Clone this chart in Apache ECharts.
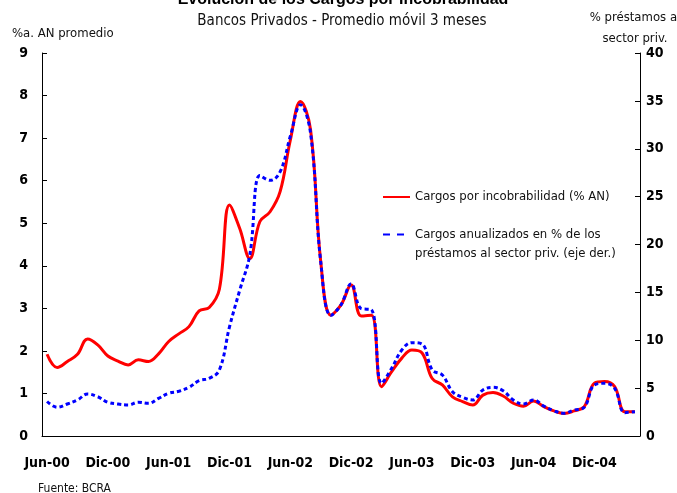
<!DOCTYPE html>
<html>
<head>
<meta charset="utf-8">
<script src="https://cdn.jsdelivr.net/npm/echarts@6/dist/echarts.min.js"></script>
<style>html,body{margin:0;padding:0;background:#fff}#c{width:677px;height:493px}</style>
</head>
<body>
<div id="c"></div>
<script>
const categories = [
  'Jun-00','Jul-00','Ago-00','Sep-00','Oct-00','Nov-00','Dic-00',
  'Ene-01','Feb-01','Mar-01','Abr-01','May-01','Jun-01','Jul-01','Ago-01','Sep-01','Oct-01','Nov-01','Dic-01',
  'Ene-02','Feb-02','Mar-02','Abr-02','May-02','Jun-02','Jul-02','Ago-02','Sep-02','Oct-02','Nov-02','Dic-02',
  'Ene-03','Feb-03','Mar-03','Abr-03','May-03','Jun-03','Jul-03','Ago-03','Sep-03','Oct-03','Nov-03','Dic-03',
  'Ene-04','Feb-04','Mar-04','Abr-04','May-04','Jun-04','Jul-04','Ago-04','Sep-04','Oct-04','Nov-04','Dic-04',
  'Ene-05','Feb-05','Mar-05','Abr-05'
];
// Cargos por incobrabilidad (% AN) - left axis
const cargosAN = [
  1.92,1.61,1.75,1.92,2.28,2.14,1.88,
  1.76,1.67,1.79,1.75,1.93,2.22,2.40,2.57,2.94,3.02,3.45,5.43,
  4.88,4.17,5.04,5.27,5.75,6.95,7.86,7.19,4.10,2.84,3.08,3.55,
  2.82,2.84,1.16,1.51,1.83,2.02,1.95,1.35,1.20,0.92,0.81,0.73,
  0.96,1.02,0.94,0.77,0.70,0.82,0.69,0.59,0.53,0.59,0.69,1.24,
  1.28,1.16,0.57,0.57
];
// Cargos anualizados en % de los préstamos al sector priv. - right axis
const cargosPrestamos = [
  3.6,3.0,3.34,3.76,4.39,4.1,3.52,
  3.34,3.24,3.52,3.41,3.93,4.46,4.67,5.08,5.78,6.02,6.89,11.4,
  15.2,18.9,27.2,26.7,27.6,31.3,34.6,31.6,18.2,12.6,13.7,15.9,
  13.3,13.2,5.5,7.07,8.98,9.75,9.6,6.9,6.37,4.63,4.04,3.76,
  4.8,5.08,4.73,3.76,3.34,3.76,3.13,2.64,2.37,2.71,3.0,5.33,
  5.5,4.98,2.44,2.54
];
const leftTicks = [0,9,1];
const rightTicks = [0,40,5];
const seriesNames = ['Cargos por incobrabilidad (% AN)', 'Cargos anualizados en % de los\npréstamos al sector priv. (eje der.)'];

const FONT = "'Liberation Sans Narrow','DejaVu Sans Condensed','Liberation Sans',sans-serif";
const chart = echarts.init(document.getElementById('c'), null, {renderer:'canvas'});
chart.setOption({
  animation: false,
  backgroundColor: '#fff',
  textStyle: {fontFamily: FONT},
  title: [
    {text: 'Evolución de los Cargos por Incobrabilidad', left: 338, top: -13, textAlign: 'center',
     textStyle: {fontFamily: 'Liberation Sans', fontWeight: 'bold', fontSize: 16, color: '#000'}},
    {text: 'Bancos Privados - Promedio móvil 3 meses', left: 337, top: 9, textAlign: 'center',
     textStyle: {fontFamily: FONT, fontWeight: 'normal', fontSize: 15, color: '#111'}},
    {text: '%a. AN promedio', left: 7, top: 22,
     textStyle: {fontFamily: FONT, fontWeight: 'normal', fontSize: 13, color: '#111'}},
    {text: '% préstamos al\nsector priv.', left: 630, top: 2, textAlign: 'center',
     textStyle: {fontFamily: FONT, fontWeight: 'normal', fontSize: 13, lineHeight: 21, color: '#111'}},
    {text: 'Fuente: BCRA', left: 33, top: 478,
     textStyle: {fontFamily: FONT, fontWeight: 'normal', fontSize: 12, color: '#111'}}
  ],
  legend: [
    {data: [seriesNames[0]], orient: 'vertical', left: 382, top: 187.5, padding: 0,
     itemWidth: 27, itemHeight: 14, itemGap: 0, itemStyle: {opacity: 0},
     textStyle: {fontFamily: FONT, fontSize: 13, lineHeight: 19, color: '#111'}},
    {data: [seriesNames[1]], orient: 'vertical', left: 382, top: 206, padding: 0,
     itemWidth: 27, itemHeight: 14, itemGap: 0, itemStyle: {opacity: 0},
     lineStyle: {type: [7, 7]},
     formatter: function (name) { return '\n' + name; },
     textStyle: {fontFamily: FONT, fontSize: 13, lineHeight: 19, color: '#111'}}
  ],
  grid: {left: 42, right: 37, top: 53, bottom: 57, containLabel: false},
  xAxis: {
    type: 'category', data: categories, boundaryGap: true,
    axisLine: {lineStyle: {color: '#000', width: 1}},
    axisTick: {interval: 5, inside: true, length: 5, lineStyle: {color: '#555'}},
    axisLabel: {interval: 5, margin: 20, color: '#000', fontWeight: 'bold', fontSize: 14, fontFamily: FONT},
    splitLine: {show: false}
  },
  yAxis: [
    {type: 'value', position: 'left', min: leftTicks[0], max: leftTicks[1], interval: leftTicks[2],
     axisLine: {show: true, lineStyle: {color: '#000', width: 1}},
     axisTick: {show: true, inside: true, length: 5, lineStyle: {color: '#000'}},
     axisLabel: {margin: 14, color: '#000', fontWeight: 'bold', fontSize: 14, fontFamily: FONT},
     splitLine: {show: false}},
    {type: 'value', position: 'right', min: rightTicks[0], max: rightTicks[1], interval: rightTicks[2],
     axisLine: {show: true, lineStyle: {color: '#000', width: 1}},
     axisTick: {show: true, inside: true, length: 5, lineStyle: {color: '#000'}},
     axisLabel: {margin: 6, color: '#000', fontWeight: 'bold', fontSize: 14, fontFamily: FONT},
     splitLine: {show: false}}
  ],
  series: [
    {name: seriesNames[0], type: 'line', yAxisIndex: 0, data: cargosAN, smooth: 0.4,
     symbol: 'none', lineStyle: {color: '#ff0000', width: 3}, itemStyle: {color: '#ff0000'}, z: 2},
    {name: seriesNames[1], type: 'line', yAxisIndex: 1, data: cargosPrestamos, smooth: 0.4,
     symbol: 'none', lineStyle: {color: '#0000ff', width: 3, type: [4,3]}, itemStyle: {color: '#0000ff'}, z: 3}
  ]
});
</script>
</body>
</html>
